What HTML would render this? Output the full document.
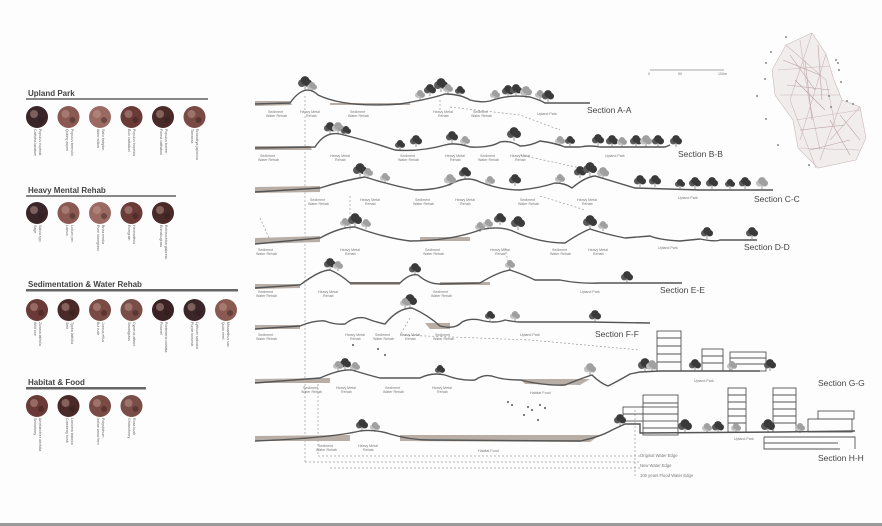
<!DOCTYPE html>
<html><head><meta charset="utf-8"><style>
html,body{margin:0;padding:0;background:#fdfdfd;}
svg{display:block}
text{font-family:"Liberation Sans",sans-serif;}
.t{font-size:8px;font-weight:bold;fill:#444}
.s{font-size:8.5px;fill:#444}
.l{font-size:3.6px;fill:#777}
.v{font-size:3.6px;fill:#666}
.g{fill:none;stroke:#555;stroke-width:1.4}
.d{fill:none;stroke:#999;stroke-width:0.7;stroke-dasharray:2 2}
.w{fill:#b8aea6;stroke:none}
</style></head><body>
<svg id="s" width="882" height="526" viewBox="0 0 882 526" xmlns="http://www.w3.org/2000/svg">
<rect width="882" height="526" fill="#fdfdfd"/>
<rect x="0" y="523" width="882" height="3" fill="#9a9a9a"/>

<text x="28" y="96" class="t">Upland Park</text>
<rect x="26" y="98" width="182" height="2" fill="#888"/>
<text x="28" y="193" class="t">Heavy Mental Rehab</text>
<rect x="26" y="195" width="150" height="2" fill="#888"/>
<text x="28" y="287" class="t">Sedimentation &amp; Water Rehab</text>
<rect x="26" y="289" width="212" height="2.5" fill="#666"/>
<text x="28" y="385" class="t">Habitat &amp; Food</text>
<rect x="26" y="387" width="120" height="2.5" fill="#666"/>
<g id="circ"></g>
<g class="v">
<text transform="translate(34,129) rotate(90)">Cathcha lanatum</text><text transform="translate(39,129) rotate(90)">Populus euphrat.</text>
<text transform="translate(66,129) rotate(90)">Quking aspen</text><text transform="translate(71,129) rotate(90)">Populus tremuloi.</text>
<text transform="translate(97,129) rotate(90)">Alder willow</text><text transform="translate(102,129) rotate(90)">Salix babylon</text>
<text transform="translate(128,129) rotate(90)">Buic cathatool</text><text transform="translate(133,129) rotate(90)">Populus hopeisis</text>
<text transform="translate(160,129) rotate(90)">Forest cathatool</text><text transform="translate(165,129) rotate(90)">Populus tomen.</text>
<text transform="translate(191,129) rotate(90)">Tamarisk</text><text transform="translate(196,129) rotate(90)">Eriobotrya japonica</text>
<text transform="translate(34,225) rotate(90)">Sage</text><text transform="translate(39,225) rotate(90)">Salvia spp.</text>
<text transform="translate(66,225) rotate(90)">Lamus</text><text transform="translate(71,225) rotate(90)">Lolium per.</text>
<text transform="translate(97,225) rotate(90)">Even bonegrass</text><text transform="translate(102,225) rotate(90)">Briza media</text>
<text transform="translate(128,225) rotate(90)">Evergrain</text><text transform="translate(133,225) rotate(90)">Hermarthria</text>
<text transform="translate(160,225) rotate(90)">Erimabugrass</text><text transform="translate(165,225) rotate(90)">Echinochloa glabresc.</text>
<text transform="translate(34,322) rotate(90)">Wild rice</text><text transform="translate(39,322) rotate(90)">Zizania latifolia</text>
<text transform="translate(66,322) rotate(90)">Sedi</text><text transform="translate(71,322) rotate(90)">Typha latifolia</text>
<text transform="translate(97,322) rotate(90)">Bul rush</text><text transform="translate(102,322) rotate(90)">Juncus effus</text>
<text transform="translate(128,322) rotate(90)">Swordgrass</text><text transform="translate(133,322) rotate(90)">Cyperus alterni.</text>
<text transform="translate(160,322) rotate(90)">Pickerel</text><text transform="translate(165,322) rotate(90)">Pontederia cordata</text>
<text transform="translate(191,322) rotate(90)">Purple loosestr.</text><text transform="translate(196,322) rotate(90)">Lythrum salicaria</text>
<text transform="translate(222,322) rotate(90)">Quick reed</text><text transform="translate(227,322) rotate(90)">Miscanthus sac.</text>
<text transform="translate(34,418) rotate(90)">Snowberry</text><text transform="translate(39,418) rotate(90)">Amelanchier alnifolia</text>
<text transform="translate(66,418) rotate(90)">Cranberry bush</text><text transform="translate(71,418) rotate(90)">Lonicera tatarica</text>
<text transform="translate(97,418) rotate(90)">Indian wood fern</text><text transform="translate(102,418) rotate(90)">Polystichum</text>
<text transform="translate(128,418) rotate(90)">Chokecherry</text><text transform="translate(133,418) rotate(90)">Rosa bush</text>
</g>

<line x1="650" y1="70" x2="724" y2="70" stroke="#888" stroke-width="0.8"/>
<text x="648" y="75" class="l">0</text><text x="678" y="75" class="l">50</text><text x="718" y="75" class="l">100m</text>

<g fill="none" stroke="#c9b8b8" stroke-width="0.6">
<path d="M786,45 L812,33 L826,54 L834,80 L842,100 L860,107 L866,138 L856,160 L818,168 L798,148 L793,120 L775,95 L772,70 Z" fill="#f2eded"/>
<path d="M786,45 L826,80 L835,125 M800,40 L808,95 L820,150 M778,70 L830,66 M780,95 L840,95 M796,120 L860,110 M800,148 L860,150 M812,33 L790,100 L816,168 M826,54 L800,140 M842,100 L820,160 M860,107 L830,140"/>
<path d="M790,55 L815,90 M795,80 L825,110 M805,60 L812,120 M818,45 L822,100 M830,120 L850,155 M840,115 L860,140 M783,60 L820,75 M787,85 L830,90 M800,130 L845,125 M810,150 L850,140" stroke="#b9a0a0"/>
</g>
<g fill="#888">
<circle cx="786" cy="37" r="1"/><circle cx="771" cy="52" r="1"/><circle cx="766" cy="63" r="1"/><circle cx="765" cy="79" r="1"/><circle cx="757" cy="96" r="1"/><circle cx="766" cy="119" r="1"/><circle cx="778" cy="145" r="1"/><circle cx="809" cy="165" r="1"/><circle cx="836" cy="60" r="1"/><circle cx="838" cy="63" r="1"/><circle cx="839" cy="70" r="1"/><circle cx="841" cy="82" r="1"/><circle cx="829" cy="96" r="1"/><circle cx="847" cy="101" r="1"/><circle cx="853" cy="104" r="1"/><circle cx="831" cy="107" r="1"/>
</g>

<g class="d">
<line x1="305" y1="96" x2="305" y2="462"/>
<line x1="318" y1="380" x2="318" y2="456"/>
<path d="M305,462 L640,462"/>
<path d="M318,456 L640,456"/>
<path d="M330,468 L640,468"/>
<line x1="635" y1="410" x2="635" y2="478"/>
<line x1="440" y1="100" x2="440" y2="112"/>
<path d="M450,107 L520,115 L560,130"/>
<path d="M520,155 L590,170"/>
<path d="M540,196 L585,210"/>
<path d="M505,248 L510,270"/>
<path d="M410,318 L400,335 L530,340 L640,350"/>
<path d="M260,218 L270,240"/>
<line x1="350" y1="196" x2="350" y2="232"/>
</g>

<g class="w">
<path d="M255,101 L290,101 L292,105 L255,106Z"/>
<path d="M330,103 L410,103 L410,105 L330,105Z"/>
<path d="M255,146 L310,146 L312,150 L255,150Z"/>
<path d="M255,187 L320,186 L320,192 L255,193Z"/>
<path d="M255,238 L320,236 L320,242 L255,244Z"/>
<path d="M420,237 L470,237 L470,241 L420,241Z"/>
<path d="M255,284 L300,284 L300,288 L255,289Z"/>
<path d="M350,282 L400,282 L400,285 L350,285Z"/>
<path d="M440,282 L490,282 L490,285 L440,285Z"/>
<path d="M255,325 L300,325 L300,329 L255,329Z"/>
<path d="M425,323 L450,323 L450,329 L430,329Z"/>
<path d="M255,379 L330,378 L330,383 L255,383Z"/>
<path d="M520,379 L590,379 L580,385 L525,384Z"/>
<path d="M255,436 L350,435 L350,441 L255,441Z"/>
<path d="M400,435 L600,435 L590,442 L400,441Z"/>
</g>

<g class="g">
<path d="M255,104 L290,103 Q305,82 318,95 Q345,108 400,104 Q430,99 445,94 Q460,94 470,100 Q480,103 490,101 Q510,94 530,97 Q540,100 545,103 L590,103"/>
<path d="M255,148 L315,147 Q325,131 340,134 Q365,140 395,150 Q420,152 445,145 Q455,142 470,147 Q490,148 500,142 Q510,140 520,146 Q530,146 540,141 Q555,143 565,147 L580,147 Q590,145 600,147 L665,147 L670,145"/>
<path d="M255,192 L320,188 Q345,180 365,177 Q390,185 415,190 Q440,190 455,182 Q468,176 480,182 Q500,190 520,190 Q540,188 555,183 Q565,183 572,188 Q585,177 595,176 Q615,182 635,188 L700,190 L773,190"/>
<path d="M255,244 L320,238 Q340,227 355,227 Q385,238 410,241 Q450,241 480,230 Q500,225 515,232 Q540,243 565,243 Q580,233 590,229 Q605,234 625,238 L650,236 Q660,240 680,241 L700,239 Q715,242 720,240 L757,240"/>
<path d="M255,288 L300,285 Q320,270 330,270 Q340,274 350,283 L400,283 Q410,273 418,275 Q428,284 440,284 L480,283 Q498,272 510,270 Q525,275 535,280 L560,280 Q580,284 600,283 L682,283"/>
<path d="M255,329 L300,326 Q315,320 325,321 Q335,325 345,324 Q355,316 365,318 Q375,322 385,324 Q398,308 412,308 Q428,315 440,326 Q455,330 462,322 Q470,318 480,320 Q495,324 505,320 Q515,322 520,322 L590,322 L650,323"/>
<path d="M255,383 L320,378 Q340,369 352,370 Q368,375 380,378 L420,378 Q432,372 445,375 Q460,381 475,380 Q485,373 495,377 Q505,380 520,380 Q545,386 565,385 Q585,377 592,375 Q600,383 608,386 Q620,380 630,374 L640,372 L660,371 L760,371"/>
<path d="M255,441 Q330,438 360,431 Q375,429 390,434 Q410,440 430,440 L580,441 Q600,437 612,430 L625,424 L640,424 L640,433 L780,432 L855,431"/>
</g>

<g fill="none" stroke="#555" stroke-width="0.9">
<rect x="657" y="331" width="24" height="40"/>
<line x1="657" y1="338" x2="681" y2="338"/><line x1="657" y1="346" x2="681" y2="346"/><line x1="657" y1="354" x2="681" y2="354"/><line x1="657" y1="362" x2="681" y2="362"/>
<rect x="702" y="349" width="21" height="22"/><line x1="702" y1="356" x2="723" y2="356"/><line x1="702" y1="363" x2="723" y2="363"/>
<rect x="730" y="352" width="36" height="19"/><line x1="730" y1="358" x2="766" y2="358"/><line x1="730" y1="364" x2="766" y2="364"/>
<rect x="643" y="395" width="35" height="40"/><rect x="623" y="407" width="55" height="14"/>
<line x1="623" y1="414" x2="678" y2="414"/><line x1="643" y1="403" x2="678" y2="403"/><line x1="643" y1="428" x2="678" y2="428"/>
<rect x="728" y="388" width="18" height="44"/>
<line x1="728" y1="395" x2="746" y2="395"/><line x1="728" y1="402" x2="746" y2="402"/><line x1="728" y1="409" x2="746" y2="409"/><line x1="728" y1="416" x2="746" y2="416"/><line x1="728" y1="423" x2="746" y2="423"/>
<rect x="773" y="388" width="23" height="44"/>
<line x1="773" y1="395" x2="796" y2="395"/><line x1="773" y1="402" x2="796" y2="402"/><line x1="773" y1="409" x2="796" y2="409"/><line x1="773" y1="416" x2="796" y2="416"/><line x1="773" y1="423" x2="796" y2="423"/>
<rect x="818" y="411" width="36" height="8"/><rect x="808" y="419" width="44" height="13"/>
<path d="M764,437 L855,437 L855,449 M764,437 L764,449 L840,449 M764,443 L838,443"/>
</g>

<g id="trees"></g>

<text x="587" y="113" class="s">Section A-A</text>
<text x="678" y="157" class="s">Section B-B</text>
<text x="754" y="202" class="s">Section C-C</text>
<text x="744" y="250" class="s">Section D-D</text>
<text x="660" y="293" class="s">Section E-E</text>
<text x="595" y="337" class="s">Section F-F</text>
<text x="818" y="386" class="s">Section G-G</text>
<text x="818" y="461" class="s">Section H-H</text>
<text x="640" y="457" class="l" style="font-size:4.2px">Original Water Edge</text>
<text x="640" y="467" class="l" style="font-size:4.2px">New Water Edge</text>
<text x="640" y="477" class="l" style="font-size:4.2px">100 years Flood Water Edge</text>

<g class="l">
<text x="268" y="113">Sediment</text><text x="266" y="117">Water Rehab</text>
<text x="300" y="113">Heavy Metal</text><text x="306" y="117">Rehab</text>
<text x="350" y="113">Sediment</text><text x="348" y="117">Water Rehab</text>
<text x="433" y="113">Heavy Metal</text><text x="438" y="117">Rehab</text>
<text x="473" y="113">Sediment</text><text x="471" y="117">Water Rehab</text>
<text x="537" y="115">Upland Park</text>
<text x="260" y="157">Sediment</text><text x="258" y="161">Water Rehab</text>
<text x="330" y="157">Heavy Metal</text><text x="335" y="161">Rehab</text>
<text x="400" y="157">Sediment</text><text x="398" y="161">Water Rehab</text>
<text x="445" y="157">Heavy Metal</text><text x="450" y="161">Rehab</text>
<text x="480" y="157">Sediment</text><text x="478" y="161">Water Rehab</text>
<text x="510" y="157">Heavy Metal</text><text x="515" y="161">Rehab</text>
<text x="605" y="157">Upland Park</text>
<text x="310" y="201">Sediment</text><text x="308" y="205">Water Rehab</text>
<text x="360" y="201">Heavy Metal</text><text x="365" y="205">Rehab</text>
<text x="415" y="201">Sediment</text><text x="413" y="205">Water Rehab</text>
<text x="455" y="201">Heavy Metal</text><text x="460" y="205">Rehab</text>
<text x="520" y="201">Sediment</text><text x="518" y="205">Water Rehab</text>
<text x="577" y="201">Heavy Metal</text><text x="582" y="205">Rehab</text>
<text x="678" y="199">Upland Park</text>
<text x="258" y="251">Sediment</text><text x="256" y="255">Water Rehab</text>
<text x="340" y="251">Heavy Metal</text><text x="345" y="255">Rehab</text>
<text x="425" y="251">Sediment</text><text x="423" y="255">Water Rehab</text>
<text x="490" y="251">Heavy Metal</text><text x="495" y="255">Rehab</text>
<text x="552" y="251">Sediment</text><text x="550" y="255">Water Rehab</text>
<text x="588" y="251">Heavy Metal</text><text x="593" y="255">Rehab</text>
<text x="658" y="249">Upland Park</text>
<text x="258" y="293">Sediment</text><text x="256" y="297">Water Rehab</text>
<text x="318" y="293">Heavy Metal</text><text x="323" y="297">Rehab</text>
<text x="433" y="293">Sediment</text><text x="431" y="297">Water Rehab</text>
<text x="580" y="293">Upland Park</text>
<text x="258" y="336">Sediment</text><text x="256" y="340">Water Rehab</text>
<text x="345" y="336">Heavy Metal</text><text x="350" y="340">Rehab</text>
<text x="375" y="336">Sediment</text><text x="373" y="340">Water Rehab</text>
<text x="400" y="336">Heavy Metal</text><text x="405" y="340">Rehab</text>
<text x="435" y="336">Sediment</text><text x="433" y="340">Water Rehab</text>
<text x="520" y="336">Upland Park</text>
<text x="303" y="389">Sediment</text><text x="301" y="393">Water Rehab</text>
<text x="336" y="389">Heavy Metal</text><text x="341" y="393">Rehab</text>
<text x="385" y="389">Sediment</text><text x="383" y="393">Water Rehab</text>
<text x="432" y="389">Heavy Metal</text><text x="437" y="393">Rehab</text>
<text x="530" y="394">Habitat Food</text>
<text x="694" y="382">Upland Park</text>
<text x="318" y="447">Sediment</text><text x="316" y="451">Water Rehab</text>
<text x="358" y="447">Heavy Metal</text><text x="363" y="451">Rehab</text>
<text x="478" y="452">Habitat Food</text>
<text x="734" y="440">Upland Park</text>
</g>
<g fill="#555">
<circle cx="508" cy="402" r="1"/><circle cx="512" cy="405" r="1"/><circle cx="528" cy="407" r="1"/><circle cx="532" cy="410" r="1"/><circle cx="540" cy="405" r="1"/><circle cx="545" cy="408" r="1"/><circle cx="524" cy="415" r="1"/><circle cx="538" cy="420" r="1"/><circle cx="353" cy="345" r="1"/><circle cx="378" cy="349" r="1"/><circle cx="385" cy="355" r="1"/>
</g>
</svg>
<script>
var NS="http://www.w3.org/2000/svg";
function el(p,t,a){var e=document.createElementNS(NS,t);for(var k in a)e.setAttribute(k,a[k]);p.appendChild(e);return e;}
var c=document.getElementById('circ');
var cols=['#8a5a52','#4a2a28','#3a2224','#9a6a62','#7a4a44','#3a2628','#6a3a36','#7a4e48'];
function row(y,n,step){for(var i=0;i<n;i++){var x=37+i*step;el(c,'circle',{cx:x,cy:y,r:11,fill:cols[(i*3+y)%cols.length]});el(c,'circle',{cx:x-3,cy:y-3,r:4,fill:'#c09a90',opacity:.5});el(c,'circle',{cx:x+4,cy:y+3,r:3,fill:'#2a1a1a',opacity:.4});}}
row(117,6,31.5);row(213,5,31.5);row(310,7,31.5);row(406,4,31.5);
var g=document.getElementById('trees');
function tree(x,y,s,d){s=s*1.3;var f=d?'#3a3a3a':'#a0a0a0';var f2=d?'#5a5a5a':'#c0c0c0';
el(g,'line',{x1:x,y1:y,x2:x,y2:y-s*0.5,stroke:'#555','stroke-width':.6});
el(g,'circle',{cx:x-s*0.35,cy:y-s*0.75,r:s*0.42,fill:f2});
el(g,'circle',{cx:x+s*0.35,cy:y-s*0.75,r:s*0.42,fill:f});
el(g,'circle',{cx:x,cy:y-s*1.05,r:s*0.48,fill:f});}
var T=[[305,90,7,1],[312,92,5,0],[420,100,5,0],[430,96,6,1],[441,92,7,1],[448,94,5,0],[460,96,5,1],[495,100,5,0],[508,97,6,1],[516,96,6,1],[526,98,6,0],[540,100,5,0],[548,102,6,1],
[330,134,6,1],[338,134,6,0],[346,136,5,1],[400,150,5,1],[416,147,6,1],[452,143,6,1],[465,146,5,0],[514,141,7,1],[560,146,5,0],[570,146,5,1],[598,146,6,1],[612,147,6,1],[622,147,5,0],[636,147,6,1],[646,147,6,0],[658,147,6,1],[676,147,6,1],
[360,177,7,1],[368,178,5,0],[385,183,5,0],[450,186,6,0],[465,179,6,1],[490,186,5,0],[515,186,6,1],[560,184,5,0],[580,178,6,1],[590,176,7,1],[603,179,6,0],[640,187,6,1],[655,187,6,1],[680,189,5,1],[695,189,6,1],[712,189,6,1],[730,189,5,1],[745,189,6,1],[762,189,6,0],
[345,228,5,0],[355,227,7,1],[366,229,5,0],[480,232,5,0],[488,229,5,0],[500,225,6,1],[518,230,7,1],[590,229,7,1],[603,231,5,0],[707,239,6,1],[752,239,6,1],
[330,270,6,1],[338,271,5,0],[415,275,6,1],[510,270,5,0],[627,283,6,1],
[410,308,7,1],[405,308,5,0],[490,321,5,1],[515,321,5,0],[595,322,6,1],
[345,370,6,1],[338,371,5,0],[355,372,5,0],[440,375,5,1],[590,375,6,0],[645,372,7,1],[652,372,6,0],[695,371,6,1],[732,371,5,0],[770,371,6,1],
[362,431,6,1],[375,432,5,0],[620,426,6,1],[685,433,7,1],[707,433,5,0],[718,433,6,1],[736,433,5,0],[768,433,7,1],[800,433,5,0]];
T.forEach(function(t){tree(t[0],t[1],t[2],t[3]);});
</script>
</body></html>
